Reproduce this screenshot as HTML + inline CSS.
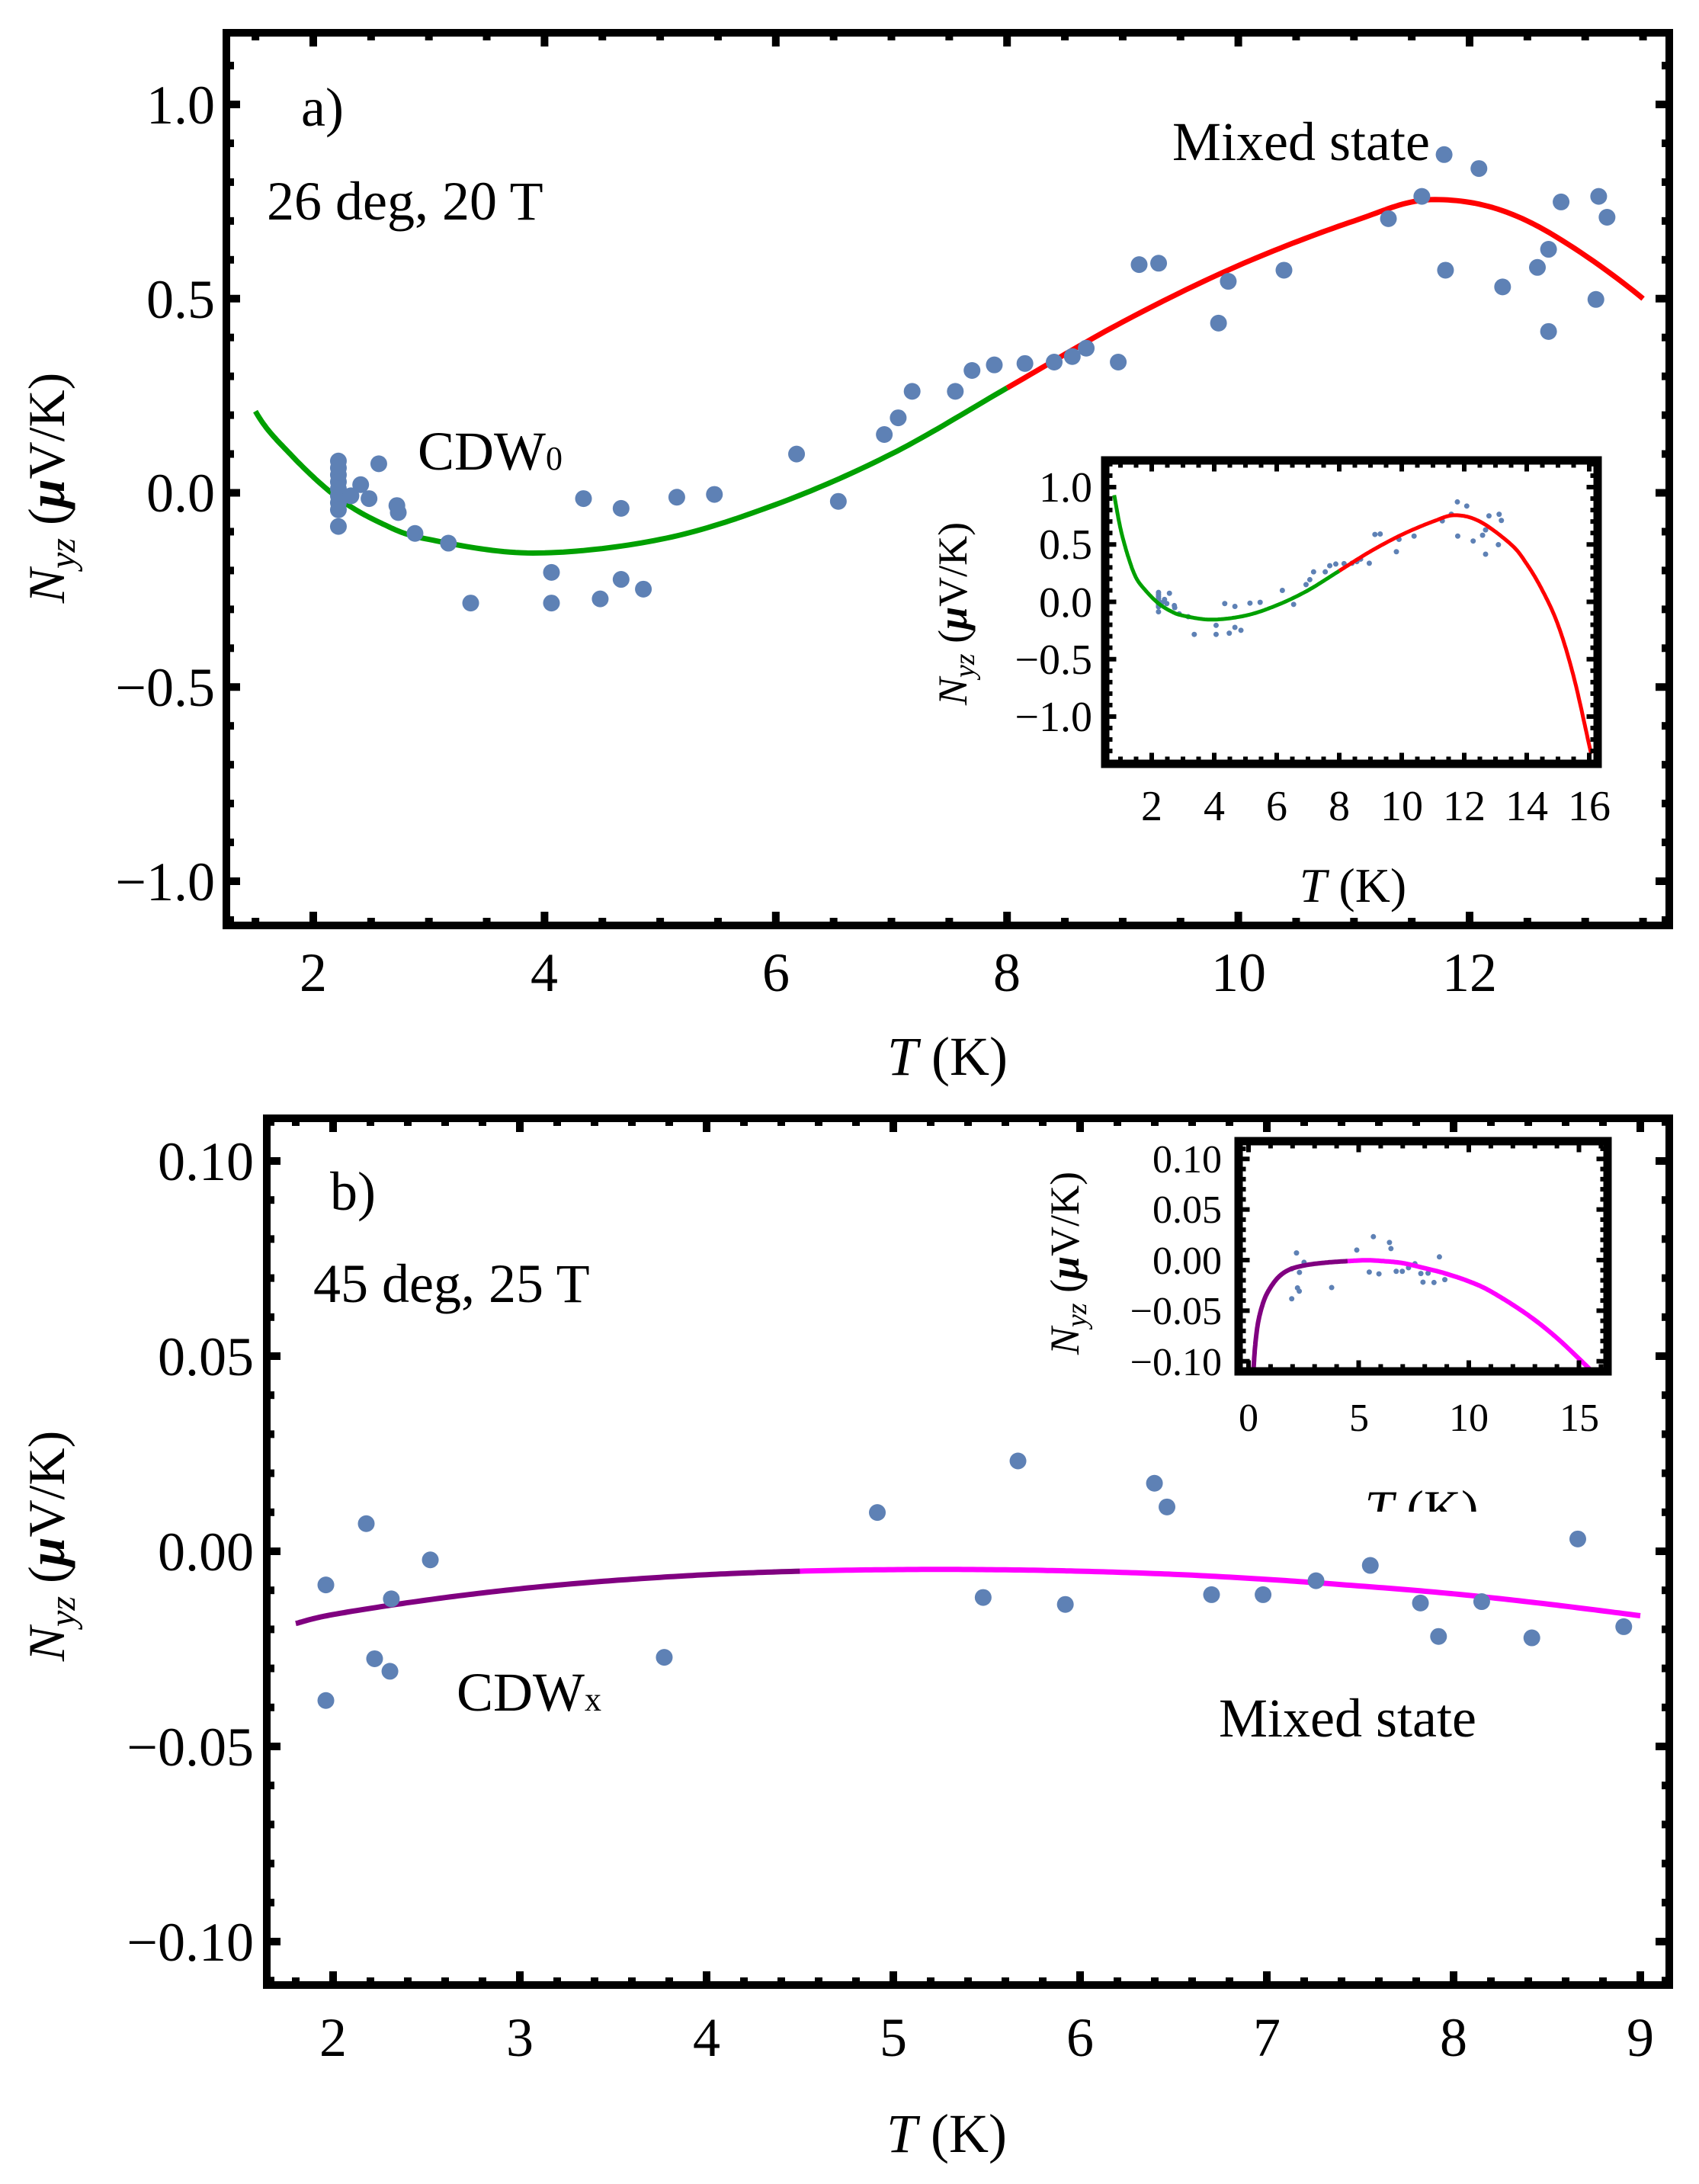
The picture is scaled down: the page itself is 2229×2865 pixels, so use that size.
<!DOCTYPE html>
<html><head><meta charset="utf-8">
<style>html,body{margin:0;padding:0;background:#fff;}svg{display:block;}
text{font-family:"Liberation Serif",serif;fill:#000;}</style></head>
<body>
<svg id="s" width="2229" height="2865" viewBox="0 0 2229 2865" xmlns="http://www.w3.org/2000/svg">
<defs>
<clipPath id="cAi"><rect x="1455" y="609" width="636" height="388"/></clipPath>
<clipPath id="cBi"><rect x="1630" y="1502" width="474" height="292"/></clipPath>
<clipPath id="cA"><rect x="302" y="48" width="1883" height="1161"/></clipPath>
<clipPath id="cB"><rect x="355" y="1472" width="1830" height="1127"/></clipPath>
</defs>
<g id="g"></g>
<g font-size="72">
<text x="282" y="162" text-anchor="end">1.0</text>
<text x="282" y="417" text-anchor="end">0.5</text>
<text x="282" y="671" text-anchor="end">0.0</text>
<text x="282" y="926" text-anchor="end">−0.5</text>
<text x="282" y="1181" text-anchor="end">−1.0</text>
<text x="411" y="1300" text-anchor="middle">2</text>
<text x="714" y="1300" text-anchor="middle">4</text>
<text x="1018" y="1300" text-anchor="middle">6</text>
<text x="1321" y="1300" text-anchor="middle">8</text>
<text x="1625" y="1300" text-anchor="middle">10</text>
<text x="1928" y="1300" text-anchor="middle">12</text>
<text x="395" y="165">a)</text>
<text x="350" y="288">26 deg, 20 T</text>
<text x="1538" y="210">Mixed state</text>
<text x="548" y="616">CDW<tspan font-size="44">0</tspan></text>
<text x="1243" y="1410" text-anchor="middle"><tspan font-style="italic">T</tspan> (K)</text>
<text transform="translate(84,640) rotate(-90)" text-anchor="middle" font-size="68"><tspan font-style="italic">N</tspan><tspan font-style="italic" font-size="48" dy="14">yz</tspan><tspan dy="-14"> (</tspan><tspan font-style="italic" font-weight="bold">μ</tspan>V/K)</text>
</g>
<g font-size="56">
<text x="1433" y="658" text-anchor="end">1.0</text>
<text x="1433" y="733" text-anchor="end">0.5</text>
<text x="1433" y="809" text-anchor="end">0.0</text>
<text x="1433" y="884" text-anchor="end">−0.5</text>
<text x="1433" y="959" text-anchor="end">−1.0</text>
<text x="1511" y="1076" text-anchor="middle">2</text>
<text x="1593" y="1076" text-anchor="middle">4</text>
<text x="1675" y="1076" text-anchor="middle">6</text>
<text x="1757" y="1076" text-anchor="middle">8</text>
<text x="1839" y="1076" text-anchor="middle">10</text>
<text x="1921" y="1076" text-anchor="middle">12</text>
<text x="2003" y="1076" text-anchor="middle">14</text>
<text x="2085" y="1076" text-anchor="middle">16</text>
<text x="1775" y="1183" text-anchor="middle" font-size="64"><tspan font-style="italic">T</tspan> (K)</text>
<text transform="translate(1268,805) rotate(-90)" text-anchor="middle" font-size="54"><tspan font-style="italic">N</tspan><tspan font-style="italic" font-size="38" dy="10">yz</tspan><tspan dy="-10"> (</tspan><tspan font-style="italic" font-weight="bold">μ</tspan>V/K)</text>
</g>
<g font-size="72">
<text x="333" y="1548" text-anchor="end">0.10</text>
<text x="333" y="1804" text-anchor="end">0.05</text>
<text x="333" y="2060" text-anchor="end">0.00</text>
<text x="333" y="2316" text-anchor="end">−0.05</text>
<text x="333" y="2572" text-anchor="end">−0.10</text>
<text x="437" y="2697" text-anchor="middle">2</text>
<text x="682" y="2697" text-anchor="middle">3</text>
<text x="927" y="2697" text-anchor="middle">4</text>
<text x="1172" y="2697" text-anchor="middle">5</text>
<text x="1417" y="2697" text-anchor="middle">6</text>
<text x="1662" y="2697" text-anchor="middle">7</text>
<text x="1907" y="2697" text-anchor="middle">8</text>
<text x="2152" y="2697" text-anchor="middle">9</text>
<text x="433" y="1587">b)</text>
<text x="411" y="1708">45 deg, 25 T</text>
<text x="599" y="2244">CDW<tspan font-size="44">x</tspan></text>
<text x="1599" y="2278">Mixed state</text>
<text x="1242" y="2823" text-anchor="middle"><tspan font-style="italic">T</tspan> (K)</text>
<text transform="translate(84,2028) rotate(-90)" text-anchor="middle" font-size="68"><tspan font-style="italic">N</tspan><tspan font-style="italic" font-size="48" dy="14">yz</tspan><tspan dy="-14"> (</tspan><tspan font-style="italic" font-weight="bold">μ</tspan>V/K)</text>
</g>
<g font-size="52">
<text x="1603" y="1538" text-anchor="end">0.10</text>
<text x="1603" y="1604" text-anchor="end">0.05</text>
<text x="1603" y="1671" text-anchor="end">0.00</text>
<text x="1603" y="1737" text-anchor="end">−0.05</text>
<text x="1603" y="1804" text-anchor="end">−0.10</text>
<text x="1638" y="1877" text-anchor="middle">0</text>
<text x="1783" y="1877" text-anchor="middle">5</text>
<text x="1927" y="1877" text-anchor="middle">10</text>
<text x="2072" y="1877" text-anchor="middle">15</text>
<text x="1865" y="2002" text-anchor="middle" font-size="68"><tspan font-style="italic">T</tspan> (K)</text>
<text transform="translate(1415,1657) rotate(-90)" text-anchor="middle" font-size="54"><tspan font-style="italic">N</tspan><tspan font-style="italic" font-size="38" dy="10">yz</tspan><tspan dy="-10"> (</tspan><tspan font-style="italic" font-weight="bold">μ</tspan>V/K)</text>
</g>
<rect x="1700" y="1983" width="330" height="40" fill="#fff"/>
<g id="top"></g>
</svg>
<script>
(function(){
var NS="http://www.w3.org/2000/svg";
var g=document.getElementById('g'), top=document.getElementById('top');
function el(p,n,a){var e=document.createElementNS(NS,n);for(var k in a)e.setAttribute(k,a[k]);p.appendChild(e);return e;}
function cr(s){var out=[];for(var i=0;i<s.length-1;i++){var p0=s[Math.max(0,i-1)],p1=s[i],p2=s[i+1],p3=s[Math.min(s.length-1,i+2)];
 var n=20;for(var j=0;j<n;j++){var t=j/n,t2=t*t,t3=t2*t;
 var f=function(a,b,c,d){return 0.5*((2*b)+(-a+c)*t+(2*a-5*b+4*c-d)*t2+(-a+3*b-3*c+d)*t3);};
 out.push([f(p0[0],p1[0],p2[0],p3[0]),f(p0[1],p1[1],p2[1],p3[1])]);}}
 out.push(s[s.length-1]);return out;}
function seg(pts,a,b){return pts.filter(function(p){return p[0]>=a-1e-9&&p[0]<=b+1e-9;});}
function line(parent,pts,X,Y,col,w,clip){var d=pts.map(function(p,i){return (i?'L':'M')+X(p[0]).toFixed(1)+' '+Y(p[1]).toFixed(1);}).join('');
 var a={d:d,fill:'none',stroke:col,'stroke-width':w,'stroke-linejoin':'round'};if(clip)a['clip-path']='url(#'+clip+')';el(parent,'path',a);}
function frame(parent,x0,x1,y0,y1,sw,xt,yt){
 el(parent,'rect',{x:x0,y:y0,width:x1-x0,height:y1-y0,fill:'none',stroke:'#000','stroke-width':sw});
 var hi=sw/2;
 xt.forEach(function(t){var x=t[0],L=t[1]+hi;
  el(parent,'rect',{x:x-t[2]/2,y:y1-L,width:t[2],height:L});el(parent,'rect',{x:x-t[2]/2,y:y0,width:t[2],height:L});});
 yt.forEach(function(t){var y=t[0],L=t[1]+hi;
  el(parent,'rect',{x:x0,y:y-t[2]/2,width:L,height:t[2]});el(parent,'rect',{x:x1-L,y:y-t[2]/2,width:L,height:t[2]});});}
function ticks(a,b,step,majStep,F,Lmaj,Lmin,w){var r=[];for(var v=a;v<=b+1e-9;v+=step){var vv=Math.round(v*1000)/1000;var m=Math.abs(vv/majStep-Math.round(vv/majStep))<1e-6;r.push([F(vv),m?Lmaj:Lmin,w]);}return r;}

var AX=function(T){return 411+(T-2)*151.7;},AY=function(v){return 646.5-v*509.5;};
var aS=[[0.8,0.93],[1.0,0.64],[1.25,0.39],[1.5,0.21],[1.8,0.10],[2.2,-0.01],[2.6,-0.08],[3.0,-0.12],[3.9,-0.155],[5,-0.12],[6,-0.03],[7,0.10],[8,0.27],[9,0.44],[10,0.585],[11,0.70],[11.7,0.755],[12.5,0.70],[13.5,0.50],[14,0.33],[14.5,0.10],[15,-0.20],[15.5,-0.65],[16,-1.25],[16.05,-1.31]];
var aC=cr(aS);
frame(g,297,2190,43,1214,10,ticks(1.5,13.5,0.5,2,AX,13,5,10),ticks(-1.1,1.1,0.1,0.5,AY,13,5,10));
line(g,seg(aC,1.5,8),AX,AY,'#00a000',7,'cA');line(g,seg(aC,8,13.5),AX,AY,'#ff0000',7,'cA');
var aD=[[243,331],[243,336],[243,341],[243,346],[243,351],[243,356],[243,361],[243,366],[243,378],[252,356],[259,348],[265,358],[272,333],[285,363],[286,368],[298,383],[322,390],[338,433],[396,411],[396,433],[419,358],[431,430],[446,365],[446,416],[462,423],[486,357],[513,355],[572,326],[602,360],[635,312],[645,300],[655,281],[686,281],[698,266],[714,262],[736,261],[757,260],[770,256],[780,250],[803,260],[818,190],[832,189],[875,232],[882,202],[922,194],[997,157],[1021,141],[1037,111],[1038,194],[1062,121],[1079,206],[1104,192],[1112,179],[1121,145],[1112,238],[1146,215],[1148,141],[1154,156]];
var aP=aD.map(function(p){var x=p[0]*1.827,y=p[1]*1.827;return [(x-411)/151.7+2,(646.5-y)/509.5];});
aP.forEach(function(p){el(g,'circle',{cx:AX(p[0]),cy:AY(p[1]),r:11,fill:'#5e81b5'});});

var IX=function(T){return 1511+(T-2)*41;},IY=function(v){return 789.5-v*150.5;};
el(g,'rect',{x:1450,y:604,width:646,height:398,fill:'#fff'});
aP.forEach(function(p){el(g,'circle',{cx:IX(p[0]),cy:IY(p[1]),r:3.5,fill:'#5e81b5'});});
line(g,seg(aC,0.8,8),IX,IY,'#00a000',5,'cAi');line(g,seg(aC,8,16.05),IX,IY,'#ff0000',5,'cAi');
frame(g,1450,2096,604,1002,11,ticks(0.5,16,0.5,2,IX,9,4,6),ticks(-1.4,1.2,0.1,0.5,IY,9,4,6));

var BX=function(T){return 437+(T-2)*245;},BY=function(v){return 2035-v*5120;};
var bS=[[1.8,-0.0185],[2,-0.0162],[2.5,-0.0125],[3,-0.0096],[3.5,-0.0075],[4,-0.006],[4.5,-0.0051],[5,-0.0047],[5.5,-0.0047],[6,-0.0051],[6.5,-0.0059],[7,-0.0072],[7.5,-0.0089],[8,-0.0109],[8.5,-0.0135],[9,-0.0165]];
var bC=cr(bS);
frame(g,350,2190,1467,2604,10,ticks(1.8,9,0.2,1,BX,13,5,10),ticks(-0.11,0.11,0.01,0.05,BY,13,5,10));
line(g,seg(bC,1.8,4.5),BX,BY,'#800080',7,'cB');line(g,seg(bC,4.5,9),BX,BY,'#ff00ff',7,'cB');
var bD=[[234,1138],[234,1221],[263,1094],[269,1191],[280,1200],[281,1148],[309,1120],[477,1190],[630,1086],[706,1147],[731,1049],[765,1152],[829,1065],[838,1082],[870,1145],[907,1145],[945,1135],[984,1124],[1020,1151],[1033,1175],[1064,1150],[1100,1176],[1133,1105],[1166,1168]];
var bP=bD.map(function(p){var x=p[0]*1.827,y=p[1]*1.827;return [(x-437)/245+2,(2035-y)/5120];});
var JX=function(T){return 1638+T*28.9;},JY=function(v){return 1653-v*1327;};
el(g,'rect',{x:1625,y:1497,width:484,height:302,fill:'#fff'});
bP.forEach(function(p){el(g,'circle',{cx:JX(p[0]),cy:JY(p[1]),r:3.5,fill:'#5e81b5'});});
var jS=[[0.2,-0.118],[0.3,-0.085],[0.45,-0.06],[0.7,-0.04],[1.0,-0.027],[1.4,-0.016],[1.9,-0.009],[2.6,-0.005],[3.5,-0.0025],[4.5,-0.001],[5.3,-0.0002],[6,-0.0008],[7,-0.003],[8,-0.008],[8.9,-0.013],[10,-0.021],[11,-0.031],[12.6,-0.053],[14,-0.077],[15.6,-0.11],[16,-0.118]];
var jC=cr(jS);
line(g,seg(jC,0.2,4.5),JX,JY,'#800080',6,'cBi');line(g,seg(jC,4.5,16),JX,JY,'#ff00ff',6,'cBi');
frame(g,1625,2109,1497,1799,11,ticks(0,16,1,5,JX,9,4,6),ticks(-0.11,0.11,0.01,0.05,JY,9,4,6));
bP.forEach(function(p){el(top,'circle',{cx:BX(p[0]),cy:BY(p[1]),r:11,fill:'#5e81b5'});});
})();
</script>
</body></html>
